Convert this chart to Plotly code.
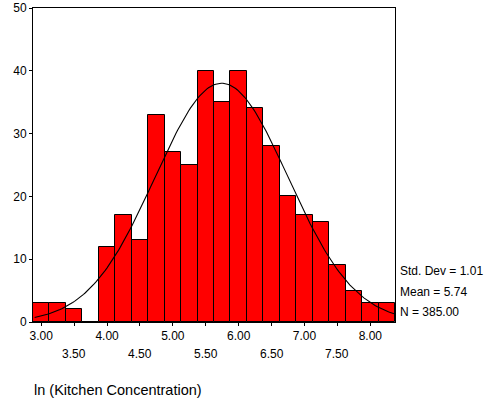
import numpy as np
import plotly.graph_objects as go

# Histogram bins (centres) and counts
bin_centers = [3.00, 3.25, 3.50, 3.75, 4.00, 4.25, 4.50, 4.75, 5.00, 5.25, 5.50,
               5.75, 6.00, 6.25, 6.50, 6.75, 7.00, 7.25, 7.50, 7.75, 8.00, 8.25]
counts = [3, 3, 2, 0, 12, 17, 13, 33, 27, 25, 40,
          35, 40, 34, 28, 20, 17, 16, 9, 5, 3, 3]
bin_width = 0.25

# Summary statistics shown in the chart
std_dev = 1.01
mean = 5.74
n_obs = 385.00

# Tick labels
x_ticks_row1 = [3.0, 4.0, 5.0, 6.0, 7.0, 8.0]
x_labels_row1 = ["3.00", "4.00", "5.00", "6.00", "7.00", "8.00"]
x_ticks_row2 = [3.5, 4.5, 5.5, 6.5, 7.5]
x_labels_row2 = ["3.50", "4.50", "5.50", "6.50", "7.50"]
y_ticks = [0, 10, 20, 30, 40, 50]
x_title = "ln (Kitchen Concentration)"

FONT = "Liberation Sans, Arial, sans-serif"

# Normal curve implied by the displayed mean / std. dev. / N
curve_x = np.linspace(2.9, 8.375, 200)
curve_y = n_obs * bin_width / (std_dev * np.sqrt(2 * np.pi)) * np.exp(-0.5 * ((curve_x - mean) / std_dev) ** 2)

fig = go.Figure()
fig.add_trace(go.Bar(
    x=bin_centers, y=counts, width=bin_width,
    marker=dict(color="#ff0000", line=dict(color="black", width=1)),
    showlegend=False, hoverinfo="x+y",
))
fig.add_trace(go.Scatter(
    x=curve_x, y=curve_y, mode="lines",
    line=dict(color="black", width=1.1),
    showlegend=False, hoverinfo="skip",
))

all_ticks = sorted(x_ticks_row1 + x_ticks_row2)
tick_text = [x_labels_row1[x_ticks_row1.index(t)] if t in x_ticks_row1 else "" for t in all_ticks]

fig.update_layout(
    width=489, height=404,
    margin=dict(l=33, r=94, t=8, b=82),
    paper_bgcolor="white", plot_bgcolor="white",
    font=dict(family=FONT, size=12, color="black"),
    bargap=0,
    xaxis=dict(
        range=[2.875, 8.375], tickvals=all_ticks, ticktext=tick_text,
        ticks="outside", ticklen=3, tickcolor="black",
        showline=True, linecolor="black", linewidth=1, mirror=True,
        showgrid=False, zeroline=False, automargin=False,
        tickfont=dict(family=FONT, size=12, color="black"),
    ),
    yaxis=dict(
        range=[0, 50], tickvals=y_ticks,
        ticks="outside", ticklen=3, tickcolor="black",
        showline=True, linecolor="black", linewidth=1, mirror=True,
        showgrid=False, zeroline=False, automargin=False,
        tickfont=dict(family=FONT, size=12, color="black"),
    ),
)

# Second (staggered) row of x tick labels
for t, lab in zip(x_ticks_row2, x_labels_row2):
    fig.add_annotation(x=t, xref="x", y=0, yref="paper", yanchor="middle",
                       yshift=-32, text=lab, showarrow=False,
                       font=dict(family=FONT, size=12, color="black"))

# Axis title
fig.add_annotation(x=0, xref="paper", y=0, yref="paper", xanchor="left", yanchor="middle",
                   xshift=-1, yshift=-68, text=x_title, showarrow=False,
                   font=dict(family=FONT, size=14.5, color="black"))

# Statistics text
stats = [f"Std. Dev = {std_dev:.2f}", f"Mean = {mean:.2f}", f"N = {n_obs:.2f}"]
for i, s in enumerate(stats):
    fig.add_annotation(x=1, xref="paper", y=0, yref="paper", xanchor="left", yanchor="middle",
                       xshift=3, yshift=51 - 20.5 * i, text=s, showarrow=False,
                       font=dict(family=FONT, size=12, color="black"))

fig.write_html("out.html")
